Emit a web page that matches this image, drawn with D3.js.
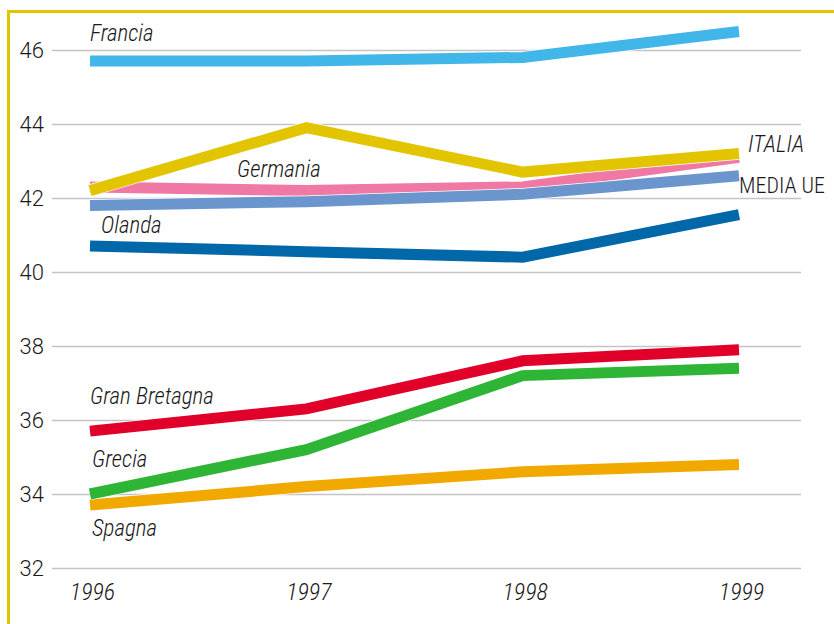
<!DOCTYPE html>
<html>
<head>
<meta charset="utf-8">
<script src="https://cdn.jsdelivr.net/npm/d3@7"></script>
<style>
  html, body { margin: 0; padding: 0; background: #fff; }
  svg { display: block; }
  .lbl { font-family: "Roboto Condensed", "Roboto", sans-serif; font-weight: 300; fill: #1a1a1a; }
  .num { font-family: "Roboto", sans-serif; font-weight: 300; fill: #1a1a1a; }
</style>
</head>
<body>
<svg id="chart" width="834" height="624"></svg>
<script>
// Years on the horizontal axis
const years = [1996, 1997, 1998, 1999];
// Y-axis ticks
const yTicks = [32, 34, 36, 38, 40, 42, 44, 46];

// Series values, one array per country
const francia      = [45.7, 45.7, 45.8, 46.5];
const olanda       = [40.7, 40.55, 40.4, 41.55];
const germania     = [42.3, 42.2, 42.3, 43.1];
const mediaUE      = [41.8, 41.9, 42.1, 42.6];
const italia       = [42.2, 43.9, 42.7, 43.2];
const granBretagna = [35.7, 36.3, 37.6, 37.9];
const grecia       = [34.0, 35.2, 37.2, 37.4];
const spagna       = [33.7, 34.2, 34.6, 34.8];

const series = [
  { name: "Francia",       values: francia,      color: "#41b6e9" },
  { name: "Olanda",        values: olanda,       color: "#0068a9" },
  { name: "Germania",      values: germania,     color: "#ef78a4" },
  { name: "MEDIA UE",      values: mediaUE,      color: "#6a96cd" },
  { name: "ITALIA",        values: italia,       color: "#e2c500" },
  { name: "Spagna",        values: spagna,       color: "#f1a900" },
  { name: "Grecia",        values: grecia,       color: "#2fb536" },
  { name: "Gran Bretagna", values: granBretagna, color: "#e00029" }
];

// Text labels placed next to the lines
const labels = [
  { text: "Francia",       x: 90,  y: 41,  italic: true,  size: 23 },
  { text: "Germania",      x: 237, y: 177, italic: true,  size: 23 },
  { text: "Olanda",        x: 101, y: 233, italic: true,  size: 23 },
  { text: "ITALIA",        x: 748, y: 152, italic: true,  size: 23 },
  { text: "MEDIA UE",      x: 739, y: 193, italic: false, size: 22 },
  { text: "Gran Bretagna", x: 90,  y: 404, italic: true,  size: 23 },
  { text: "Grecia",        x: 92,  y: 467, italic: true,  size: 23 },
  { text: "Spagna",        x: 92,  y: 536, italic: true,  size: 23 }
];

const svg = d3.select("#chart");

const x = d3.scaleLinear().domain([1996, 1999]).range([90, 739]);
const y = d3.scaleLinear().domain([32, 46]).range([568, 50]);

// Frame (top and left edges)
svg.append("path")
  .attr("d", "M8.5,624 L8.5,11.5 L834,11.5")
  .attr("fill", "none")
  .attr("stroke", "#e2c500")
  .attr("stroke-width", 3);

// Horizontal gridlines with tick labels
const yAxis = d3.axisLeft(y)
  .tickValues(yTicks)
  .tickSize(-(801 - 52))
  .tickPadding(8)
  .tickFormat(d3.format("d"));

const gy = svg.append("g").attr("transform", "translate(52,0)").call(yAxis);
gy.select(".domain").remove();
gy.selectAll(".tick line").attr("stroke", "#c4c4c4").attr("stroke-width", 1.5);
gy.selectAll(".tick text")
  .attr("class", "num")
  .attr("font-family", null)
  .attr("font-size", 22)
  .attr("fill", "#1a1a1a");

// Year labels
const xAxis = d3.axisBottom(x)
  .tickValues(years)
  .tickSize(0)
  .tickPadding(0)
  .tickFormat(d3.format("d"));
const gx = svg.append("g").attr("transform", "translate(2,583)").call(xAxis);
gx.select(".domain").remove();
gx.selectAll(".tick text")
  .attr("class", "lbl")
  .attr("font-family", null)
  .attr("font-size", 24)
  .attr("font-style", "italic")
  .attr("fill", "#1a1a1a")
  .attr("dy", "0.71em");

// Lines
const line = d3.line()
  .x((d, i) => x(years[i]))
  .y(d => y(d));

const gl = svg.append("g");
series.forEach(s => {
  gl.append("path")
    .attr("d", line(s.values))
    .attr("fill", "none")
    .attr("stroke", "#fff")
    .attr("stroke-width", 12.5)
    .attr("stroke-linejoin", "miter");
  gl.append("path")
    .attr("d", line(s.values))
    .attr("fill", "none")
    .attr("stroke", s.color)
    .attr("stroke-width", 11)
    .attr("stroke-linejoin", "miter");
});

// Series names
svg.append("g").selectAll("text")
  .data(labels)
  .join("text")
  .attr("class", "lbl")
  .attr("x", d => d.x)
  .attr("y", d => d.y)
  .attr("font-size", d => d.size)
  .attr("font-style", d => d.italic ? "italic" : "normal")
  .text(d => d.text);
</script>
</body>
</html>
